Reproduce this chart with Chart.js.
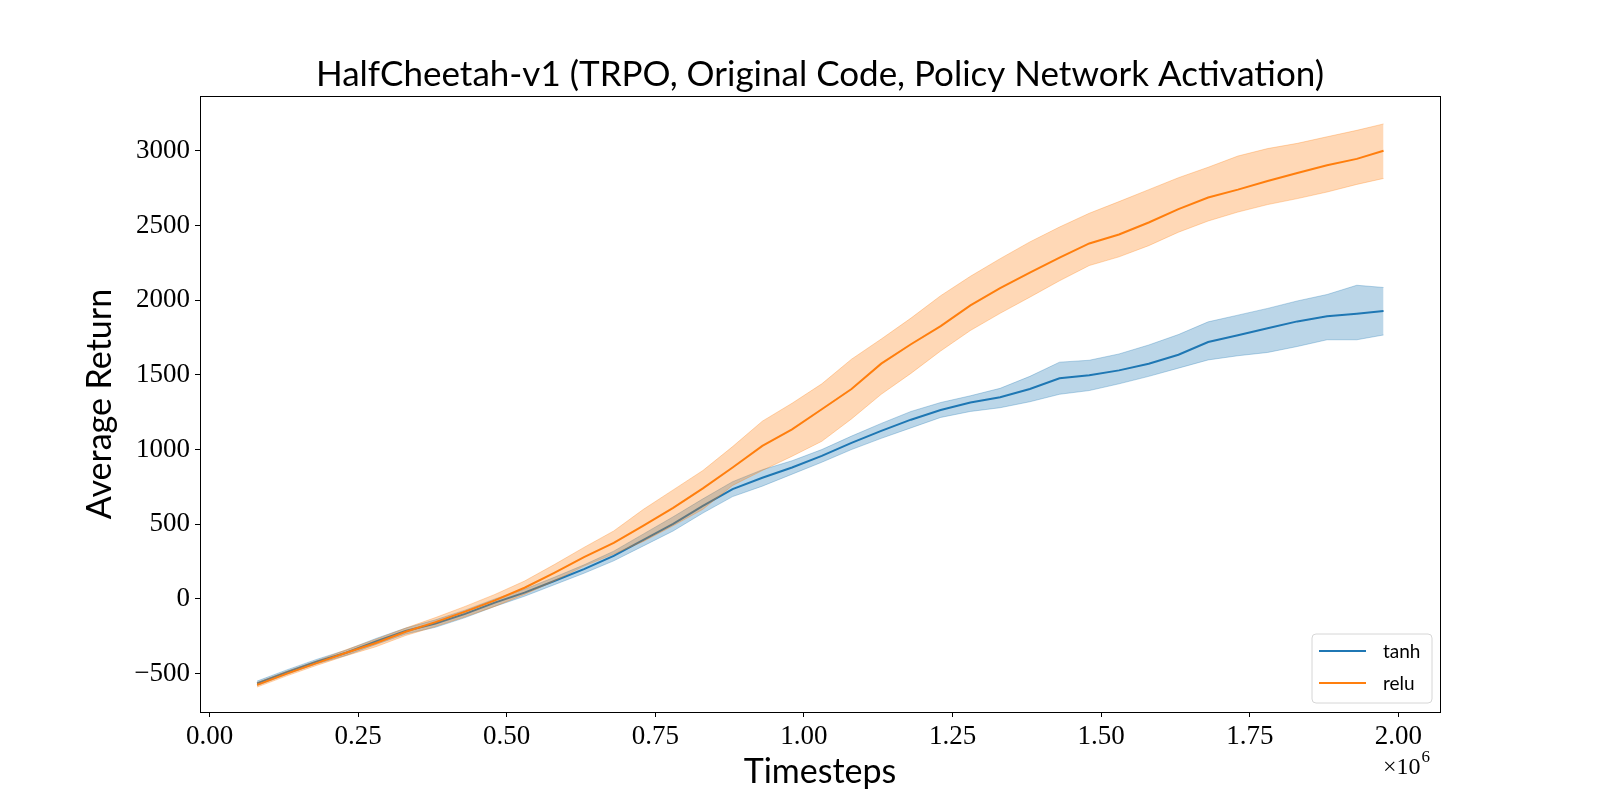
<!DOCTYPE html>
<html>
<head>
<meta charset="utf-8">
<title>HalfCheetah-v1 TRPO activation</title>
<script src="https://cdn.jsdelivr.net/npm/chart.js@4/dist/chart.umd.min.js"></script>
<style>
  html, body { margin: 0; padding: 0; background: #fff; }
  #wrap { width: 1600px; height: 800px; }
</style>
</head>
<body>
<div id="wrap"><canvas id="myChart" width="1600" height="800"></canvas></div>
<script>
// timesteps, in units of 1e6
const steps = [0.08, 0.13, 0.18, 0.23, 0.28, 0.33, 0.38, 0.43, 0.48, 0.53,
  0.58, 0.63, 0.68, 0.73, 0.78, 0.83, 0.88, 0.93, 0.98, 1.03,
  1.08, 1.13, 1.18, 1.23, 1.28, 1.33, 1.38, 1.43, 1.48, 1.53,
  1.58, 1.63, 1.68, 1.73, 1.78, 1.83, 1.88, 1.93, 1.975];

const tanhMean = [-565, -490, -420, -360, -285, -215, -165, -100, -25, 42,
  120, 200, 288, 395, 503, 623, 735, 811, 880, 958,
  1045, 1125, 1200, 1265, 1315, 1350, 1405, 1477, 1497, 1530,
  1575, 1635, 1720, 1765, 1812, 1858, 1892, 1910, 1928];
const tanhHigh = [-550, -475, -405, -342, -265, -195, -140, -75, 0, 65,
  145, 228, 320, 435, 550, 670, 785, 865, 925, 1000,
  1090, 1175, 1255, 1315, 1360, 1410, 1490, 1585, 1598, 1640,
  1700, 1770, 1855, 1900, 1945, 1995, 2038, 2100, 2085];
const tanhLow = [-580, -505, -435, -378, -305, -235, -190, -125, -50, 18,
  95, 172, 255, 355, 455, 575, 685, 755, 835, 915,
  1000, 1075, 1145, 1215, 1255, 1280, 1320, 1370, 1395, 1440,
  1490, 1545, 1600, 1628, 1650, 1690, 1735, 1735, 1767];

const reluMean = [-575, -500, -430, -360, -295, -220, -155, -85, -10, 75,
  175, 280, 375, 490, 610, 740, 880, 1025, 1135, 1270,
  1405, 1575, 1705, 1826, 1965, 2080, 2185, 2285, 2380, 2440,
  2520, 2610, 2687, 2740, 2798, 2852, 2903, 2946, 3000];
const reluHigh = [-560, -485, -415, -340, -270, -195, -125, -50, 30, 120,
  230, 345, 455, 600, 730, 860, 1020, 1190, 1310, 1440,
  1605, 1740, 1880, 2030, 2160, 2278, 2390, 2490, 2582, 2660,
  2740, 2820, 2890, 2965, 3015, 3050, 3094, 3137, 3180];
const reluLow = [-590, -515, -445, -380, -320, -245, -185, -120, -50, 30,
  120, 220, 300, 385, 490, 600, 760, 860, 955, 1055,
  1205, 1370, 1510, 1660, 1797, 1912, 2020, 2130, 2232, 2290,
  2365, 2455, 2530, 2590, 2640, 2680, 2724, 2775, 2815];

const xTicks = [0, 0.25, 0.5, 0.75, 1.0, 1.25, 1.5, 1.75, 2.0];
const yTicks = [-500, 0, 500, 1000, 1500, 2000, 2500, 3000];
const seriesNames = ["tanh", "relu"];

const BLUE = "#1f77b4";
const ORANGE = "#ff7f0e";
const BLUE_A = "rgba(31, 119, 180, 0.3)";
const ORANGE_A = "rgba(255, 127, 14, 0.3)";

const SERIF = "'Liberation Serif', 'DejaVu Serif', serif";
const SANS = "Lato, 'Open Sans', 'DejaVu Sans', sans-serif";

function pts(ys) {
  return steps.map((x, i) => ({ x: x, y: ys[i] }));
}

function lineSet(label, ys, color, order) {
  return {
    label: label,
    data: pts(ys),
    borderColor: color,
    borderWidth: 2,
    pointRadius: 0,
    tension: 0,
    fill: false,
    order: order,
  };
}

function bandSet(ys, color, order, fill) {
  return {
    data: pts(ys),
    borderColor: color,
    backgroundColor: color,
    borderWidth: 1,
    pointRadius: 0,
    tension: 0,
    fill: fill,
    order: order,
  };
}

// font size that makes text span a given width
function fitText(ctx, text, family, targetWidth) {
  ctx.font = "100px " + family;
  const w = ctx.measureText(text).width;
  return Math.round((100 * targetWidth) / w);
}

const decorations = {
  id: "decorations",
  afterDraw(chart) {
    const { ctx, chartArea } = chart;
    ctx.save();

    // frame
    ctx.strokeStyle = "#000";
    ctx.lineWidth = 1;
    ctx.strokeRect(
      Math.round(chartArea.left) + 0.5,
      Math.round(chartArea.top) + 0.5,
      Math.round(chartArea.right - chartArea.left),
      Math.round(chartArea.bottom - chartArea.top)
    );

    const cx = (chartArea.left + chartArea.right) / 2;
    const cy = (chartArea.top + chartArea.bottom) / 2;

    ctx.fillStyle = "#000";
    ctx.textAlign = "center";
    ctx.textBaseline = "middle";

    // title
    const title = "HalfCheetah-v1 (TRPO, Original Code, Policy Network Activation)";
    let size = fitText(ctx, title, SANS, 1020);
    ctx.font = size + "px " + SANS;
    ctx.fillText(title, cx, 75);

    // x label
    size = fitText(ctx, "Timesteps", SANS, 153);
    ctx.font = size + "px " + SANS;
    ctx.fillText("Timesteps", cx, 772);

    // y label
    size = fitText(ctx, "Average Return", SANS, 233);
    ctx.font = size + "px " + SANS;
    ctx.save();
    ctx.translate(100, cy);
    ctx.rotate(-Math.PI / 2);
    ctx.fillText("Average Return", 0, 0);
    ctx.restore();

    // offset text
    ctx.textAlign = "left";
    ctx.font = "24px " + SERIF;
    ctx.fillText("\u00d710", 1383, 768);
    const w10 = ctx.measureText("\u00d710").width;
    ctx.font = "17px " + SERIF;
    ctx.fillText("6", 1383 + w10 + 1, 758);

    // legend
    const lx = 1312, ly = 634, lw = 120, lh = 69, r = 4;
    ctx.beginPath();
    ctx.moveTo(lx + r, ly);
    ctx.arcTo(lx + lw, ly, lx + lw, ly + lh, r);
    ctx.arcTo(lx + lw, ly + lh, lx, ly + lh, r);
    ctx.arcTo(lx, ly + lh, lx, ly, r);
    ctx.arcTo(lx, ly, lx + lw, ly, r);
    ctx.closePath();
    ctx.fillStyle = "rgba(255,255,255,0.8)";
    ctx.fill();
    ctx.strokeStyle = "#d6d6d6";
    ctx.lineWidth = 1;
    ctx.stroke();

    const colors = [BLUE, ORANGE];
    ctx.font = "19px " + SANS;
    seriesNames.forEach((name, i) => {
      const y = 651 + i * 32;
      ctx.strokeStyle = colors[i];
      ctx.lineWidth = 2;
      ctx.beginPath();
      ctx.moveTo(1319, y);
      ctx.lineTo(1366, y);
      ctx.stroke();
      ctx.fillStyle = "#000";
      ctx.fillText(name, 1383, y + 1);
    });

    ctx.restore();
  },
};

const config = {
  type: "line",
  data: {
    datasets: [
      lineSet(seriesNames[0], tanhMean, BLUE, 4),
      bandSet(tanhLow, BLUE_A, 3, false),
      bandSet(tanhHigh, BLUE_A, 3, { target: 1 }),
      lineSet(seriesNames[1], reluMean, ORANGE, 2),
      bandSet(reluLow, ORANGE_A, 1, false),
      bandSet(reluHigh, ORANGE_A, 1, { target: 4 }),
    ],
  },
  options: {
    responsive: false,
    devicePixelRatio: 1,
    animation: false,
    layout: {
      padding: { top: 96, right: 160, left: 0, bottom: 0 },
    },
    plugins: {
      legend: { display: false },
      title: { display: false },
      tooltip: { enabled: false },
    },
    scales: {
      x: {
        type: "linear",
        min: -0.016,
        max: 2.07,
        afterBuildTicks: (scale) => {
          scale.ticks = xTicks.map((v) => ({ value: v }));
        },
        afterFit: (scale) => {
          scale.height = 88;
        },
        grid: {
          drawOnChartArea: false,
          drawTicks: true,
          tickLength: 5,
          color: "#000",
        },
        border: { display: true, color: "#000", width: 1 },
        ticks: {
          autoSkip: false,
          maxRotation: 0,
          padding: 4,
          color: "#000",
          font: { family: SERIF, size: 27 },
          callback: (v) => v.toFixed(2),
        },
      },
      y: {
        type: "linear",
        min: -757,
        max: 3367,
        afterBuildTicks: (scale) => {
          scale.ticks = yTicks.map((v) => ({ value: v }));
        },
        afterFit: (scale) => {
          scale.width = 200;
        },
        grid: {
          drawOnChartArea: false,
          drawTicks: true,
          tickLength: 5,
          color: "#000",
        },
        border: { display: true, color: "#000", width: 1 },
        ticks: {
          autoSkip: false,
          padding: 5,
          color: "#000",
          font: { family: SERIF, size: 27 },
          callback: (v) => (v < 0 ? "\u2212" + Math.abs(v) : String(v)),
        },
      },
    },
  },
  plugins: [decorations],
};

const myChart = new Chart(document.getElementById("myChart"), config);
</script>
</body>
</html>
